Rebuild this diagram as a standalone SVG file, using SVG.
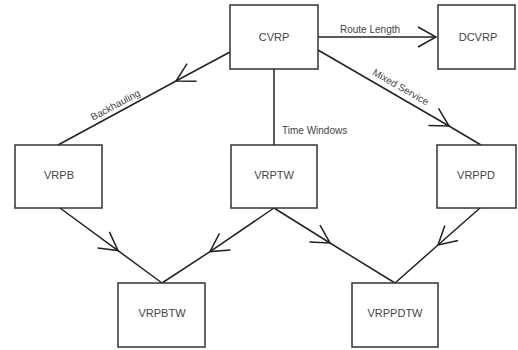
<svg xmlns="http://www.w3.org/2000/svg" width="518" height="350" viewBox="0 0 518 350">
<style>
.box{fill:#fff;stroke:#333;stroke-width:1.5}
.lbl{font-family:"Liberation Sans",Arial,sans-serif;font-size:11px;fill:#444;text-anchor:middle}
.elbl{font-family:"Liberation Sans",Arial,sans-serif;font-size:10px;fill:#444}
.edge{fill:none;stroke:#222;stroke-width:1.5}
</style>
<defs>
<marker id="v" markerUnits="userSpaceOnUse" markerWidth="24" markerHeight="24" viewBox="-20 -12 22 24" refX="0" refY="0" orient="auto">
<path d="M-18,-10 L0,0 L-18,10" fill="none" stroke="#222" stroke-width="1.5"/>
</marker>
</defs>
<rect width="518" height="350" fill="#fff"/>
<g id="connectors">
<path class="edge" d="M318,37 L436,37" marker-end="url(#v)"/>
<path class="edge" d="M230,52 L176,81 L58,145" marker-mid="url(#v)"/>
<path class="edge" d="M318,50 L449,126 L481,145" marker-mid="url(#v)"/>
<path class="edge" d="M274,69 L274,145"/>
<path class="edge" d="M60,208 L118,250.6 L162,283" marker-mid="url(#v)"/>
<path class="edge" d="M274,208 L210,251.6 L162,283" marker-mid="url(#v)"/>
<path class="edge" d="M274,208 L330,243 L395,283" marker-mid="url(#v)"/>
<path class="edge" d="M480,208 L438,245 L395,283" marker-mid="url(#v)"/>
<text class="elbl" x="340" y="33">Route Length</text>
<text class="elbl" x="282" y="134">Time Windows</text>
<text class="elbl" transform="translate(399,90) rotate(29.7)" text-anchor="middle">Mixed Service</text>
<text class="elbl" transform="translate(117,108) rotate(-28.2)" text-anchor="middle">Backhauling</text>
</g>
<g id="CVRP"><rect class="box" x="230" y="5" width="88" height="64"/><text class="lbl" x="274" y="41">CVRP</text></g>
<g id="DCVRP"><rect class="box" x="438" y="5" width="77" height="64"/><text class="lbl" x="478" y="41">DCVRP</text></g>
<g id="VRPB"><rect class="box" x="15" y="145" width="87" height="63"/><text class="lbl" x="59" y="179">VRPB</text></g>
<g id="VRPTW"><rect class="box" x="231" y="145" width="86" height="63"/><text class="lbl" x="274" y="179">VRPTW</text></g>
<g id="VRPPD"><rect class="box" x="437" y="145" width="79" height="63"/><text class="lbl" x="476" y="179">VRPPD</text></g>
<g id="VRPBTW"><rect class="box" x="118" y="283" width="87" height="64"/><text class="lbl" x="162" y="317">VRPBTW</text></g>
<g id="VRPPDTW"><rect class="box" x="352" y="283" width="86" height="64"/><text class="lbl" x="395" y="317">VRPPDTW</text></g>
</svg>
